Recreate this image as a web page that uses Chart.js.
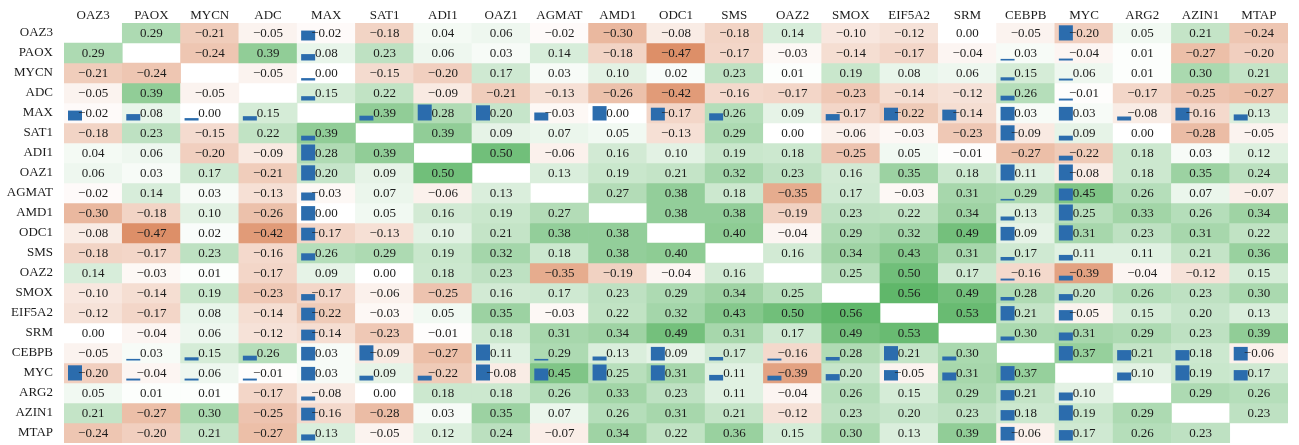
<!DOCTYPE html>
<html>
<head>
<meta charset="utf-8">
<script src="https://cdn.jsdelivr.net/npm/chart.js@4.4.1/dist/chart.umd.min.js"></script>
<style>
  html, body { margin: 0; padding: 0; background: #ffffff; }
  #wrap { width: 1299px; height: 445px; }
</style>
</head>
<body>
<div id="wrap"><canvas id="c" width="1299" height="445"></canvas></div>
<script>
// ---- categories ----
const genes = ["OAZ3","PAOX","MYCN","ADC","MAX","SAT1","ADI1","OAZ1","AGMAT","AMD1","ODC1","SMS","OAZ2","SMOX","EIF5A2","SRM","CEBPB","MYC","ARG2","AZIN1","MTAP"];

// ---- correlation rows (null = diagonal) ----
const rOAZ3   = [null, 0.29,-0.21,-0.05,-0.02,-0.18, 0.04, 0.06,-0.02,-0.30,-0.08,-0.18, 0.14,-0.10,-0.12, 0.00,-0.05,-0.20, 0.05, 0.21,-0.24];
const rPAOX   = [0.29, null,-0.24, 0.39, 0.08, 0.23, 0.06, 0.03, 0.14,-0.18,-0.47,-0.17,-0.03,-0.14,-0.17,-0.04, 0.03,-0.04, 0.01,-0.27,-0.20];
const rMYCN   = [-0.21,-0.24, null,-0.05, 0.00,-0.15,-0.20, 0.17, 0.03, 0.10, 0.02, 0.23, 0.01, 0.19, 0.08, 0.06, 0.15, 0.06, 0.01, 0.30, 0.21];
const rADC    = [-0.05, 0.39,-0.05, null, 0.15, 0.22,-0.09,-0.21,-0.13,-0.26,-0.42,-0.16,-0.17,-0.23,-0.14,-0.12, 0.26,-0.01,-0.17,-0.25,-0.27];
const rMAX    = [-0.02, 0.08, 0.00, 0.15, null, 0.39, 0.28, 0.20,-0.03, 0.00,-0.17, 0.26, 0.09,-0.17,-0.22,-0.14, 0.03, 0.03,-0.08,-0.16, 0.13];
const rSAT1   = [-0.18, 0.23,-0.15, 0.22, 0.39, null, 0.39, 0.09, 0.07, 0.05,-0.13, 0.29, 0.00,-0.06,-0.03,-0.23,-0.09, 0.09, 0.00,-0.28,-0.05];
const rADI1   = [0.04, 0.06,-0.20,-0.09, 0.28, 0.39, null, 0.50,-0.06, 0.16, 0.10, 0.19, 0.18,-0.25, 0.05,-0.01,-0.27,-0.22, 0.18, 0.03, 0.12];
const rOAZ1   = [0.06, 0.03, 0.17,-0.21, 0.20, 0.09, 0.50, null, 0.13, 0.19, 0.21, 0.32, 0.23, 0.16, 0.35, 0.18, 0.11,-0.08, 0.18, 0.35, 0.24];
const rAGMAT  = [-0.02, 0.14, 0.03,-0.13,-0.03, 0.07,-0.06, 0.13, null, 0.27, 0.38, 0.18,-0.35, 0.17,-0.03, 0.31, 0.29, 0.45, 0.26, 0.07,-0.07];
const rAMD1   = [-0.30,-0.18, 0.10,-0.26, 0.00, 0.05, 0.16, 0.19, 0.27, null, 0.38, 0.38,-0.19, 0.23, 0.22, 0.34, 0.13, 0.25, 0.33, 0.26, 0.34];
const rODC1   = [-0.08,-0.47, 0.02,-0.42,-0.17,-0.13, 0.10, 0.21, 0.38, 0.38, null, 0.40,-0.04, 0.29, 0.32, 0.49, 0.09, 0.31, 0.23, 0.31, 0.22];
const rSMS    = [-0.18,-0.17, 0.23,-0.16, 0.26, 0.29, 0.19, 0.32, 0.18, 0.38, 0.40, null, 0.16, 0.34, 0.43, 0.31, 0.17, 0.11, 0.11, 0.21, 0.36];
const rOAZ2   = [0.14,-0.03, 0.01,-0.17, 0.09, 0.00, 0.18, 0.23,-0.35,-0.19,-0.04, 0.16, null, 0.25, 0.50, 0.17,-0.16,-0.39,-0.04,-0.12, 0.15];
const rSMOX   = [-0.10,-0.14, 0.19,-0.23,-0.17,-0.06,-0.25, 0.16, 0.17, 0.23, 0.29, 0.34, 0.25, null, 0.56, 0.49, 0.28, 0.20, 0.26, 0.23, 0.30];
const rEIF5A2 = [-0.12,-0.17, 0.08,-0.14,-0.22,-0.03, 0.05, 0.35,-0.03, 0.22, 0.32, 0.43, 0.50, 0.56, null, 0.53, 0.21,-0.05, 0.15, 0.20, 0.13];
const rSRM    = [0.00,-0.04, 0.06,-0.12,-0.14,-0.23,-0.01, 0.18, 0.31, 0.34, 0.49, 0.31, 0.17, 0.49, 0.53, null, 0.30, 0.31, 0.29, 0.23, 0.39];
const rCEBPB  = [-0.05, 0.03, 0.15, 0.26, 0.03,-0.09,-0.27, 0.11, 0.29, 0.13, 0.09, 0.17,-0.16, 0.28, 0.21, 0.30, null, 0.37, 0.21, 0.18,-0.06];
const rMYC    = [-0.20,-0.04, 0.06,-0.01, 0.03, 0.09,-0.22,-0.08, 0.45, 0.25, 0.31, 0.11,-0.39, 0.20,-0.05, 0.31, 0.37, null, 0.10, 0.19, 0.17];
const rARG2   = [0.05, 0.01, 0.01,-0.17,-0.08, 0.00, 0.18, 0.18, 0.26, 0.33, 0.23, 0.11,-0.04, 0.26, 0.15, 0.29, 0.21, 0.10, null, 0.29, 0.26];
const rAZIN1  = [0.21,-0.27, 0.30,-0.25,-0.16,-0.28, 0.03, 0.35, 0.07, 0.26, 0.31, 0.21,-0.12, 0.23, 0.20, 0.23, 0.18, 0.19, 0.29, null, 0.23];
const rMTAP   = [-0.24,-0.20, 0.21,-0.27, 0.13,-0.05, 0.12, 0.24,-0.07, 0.34, 0.22, 0.36, 0.15, 0.30, 0.13, 0.39,-0.06, 0.17, 0.26, 0.23, null];

// ---- inset bar magnitudes (0..1) for the MAX, CEBPB and MYC rows/columns ----
const barMAX   = [0.62,0.40,0.15,0.27,null,0.30,1.00,0.95,0.50,0.90,0.80,0.45,0.00,0.40,0.80,0.68,0.85,0.85,0.25,0.80,0.38];
const barCEBPB = [0.00,0.10,0.20,0.30,0.85,0.95,0.00,1.00,0.10,0.25,0.85,0.22,0.12,0.22,0.90,0.25,null,0.90,0.65,0.65,0.85];
const barMYC   = [0.95,0.12,0.12,0.12,0.85,0.30,0.30,1.00,0.75,1.00,0.95,0.35,0.30,0.40,0.65,0.50,0.90,null,0.50,0.95,0.65];

const matrix = [rOAZ3,rPAOX,rMYCN,rADC,rMAX,rSAT1,rADI1,rOAZ1,rAGMAT,rAMD1,rODC1,rSMS,rOAZ2,rSMOX,rEIF5A2,rSRM,rCEBPB,rMYC,rARG2,rAZIN1,rMTAP];
const barGenes = { MAX: barMAX, CEBPB: barCEBPB, MYC: barMYC };

function cellColor(v) {
  const t = Math.min(Math.abs(v) / 0.6, 1);
  const end = v >= 0 ? [85, 178, 95] : [212, 112, 62];
  const c = end.map(e => Math.round(255 + (e - 255) * t));
  return `rgb(${c[0]},${c[1]},${c[2]})`;
}

function barFor(r, c) {
  const cg = genes[c], rg = genes[r];
  if (barGenes[cg]) return barGenes[cg][r] || 0;
  if (barGenes[rg]) return barGenes[rg][c] || 0;
  return 0;
}

const FONT = '"Liberation Serif", "Times New Roman", serif';

const cellTextPlugin = {
  id: 'cellText',
  afterDatasetsDraw(chart) {
    const ctx = chart.ctx;
    ctx.save();
    matrix.forEach((row, i) => {
      const meta = chart.getDatasetMeta(i);
      meta.data.forEach((el, j) => {
        const v = row[j];
        if (v === null || v === undefined) return;
        const p = el.getProps(['x', 'y', 'base', 'width'], true);
        const top = Math.min(p.y, p.base), bottom = Math.max(p.y, p.base);
        const left = p.x - p.width / 2;
        const b = barFor(i, j);
        if (b > 0) {
          const h = Math.max(1.2, b * (bottom - top - 4));
          ctx.fillStyle = '#2b6cad';
          ctx.fillRect(left + 4, bottom - 2.5 - h, 14, h);
        }
        ctx.fillStyle = '#1c1c1c';
        ctx.font = '13px ' + FONT;
        ctx.textAlign = 'center';
        ctx.textBaseline = 'middle';
        const txt = v.toFixed(2).replace('-', '\u2212');
        ctx.fillText(txt, p.x, (top + bottom) / 2 + 1);
      });
    });
    ctx.restore();
  }
};

const datasets = matrix.map((row, i) => ({
  label: genes[i],
  data: row.map(v => (v === null ? null : [i - 0.5, i + 0.5])),
  backgroundColor: row.map(v => (v === null ? 'rgba(0,0,0,0)' : cellColor(v))),
  borderWidth: 0,
  borderSkipped: false,
  grouped: false,
  categoryPercentage: 1.0,
  barPercentage: 1.0
}));

new Chart(document.getElementById('c'), {
  type: 'bar',
  data: { labels: genes, datasets },
  options: {
    responsive: false,
    devicePixelRatio: 1,
    animation: false,
    layout: { padding: { top: 0, left: 0, right: 11, bottom: 2 } },
    plugins: { legend: { display: false }, tooltip: { enabled: false } },
    scales: {
      x: {
        type: 'category',
        position: 'top',
        offset: true,
        grid: { display: false, drawTicks: false },
        border: { display: false },
        ticks: { color: '#1c1c1c', font: { family: FONT, size: 13 }, padding: 0, maxRotation: 0, autoSkip: false },
        afterFit(s) { s.height = 23; s.paddingLeft = 0; s.paddingRight = 0; }
      },
      y: {
        type: 'linear',
        reverse: true,
        min: -0.5,
        max: 20.5,
        grid: { display: false, drawTicks: false },
        border: { display: false },
        afterBuildTicks(s) { s.ticks = genes.map((_, i) => ({ value: i })); },
        ticks: {
          color: '#1c1c1c',
          font: { family: FONT, size: 13 },
          padding: 11,
          autoSkip: false,
          callback: (v) => genes[v]
        },
        afterFit(s) { s.width = 64; s.paddingTop = 0; s.paddingBottom = 0; }
      }
    }
  },
  plugins: [cellTextPlugin]
});
</script>
</body>
</html>
